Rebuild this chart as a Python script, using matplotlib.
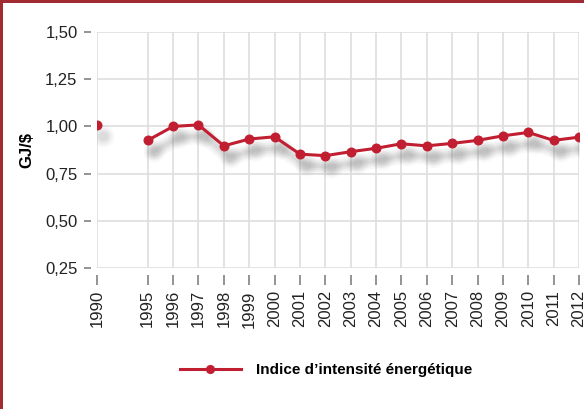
import matplotlib
matplotlib.use('Agg')
import matplotlib.pyplot as plt
import matplotlib.transforms as mtransforms
from matplotlib.patches import Rectangle
import numpy as np

# Data (empty slot between 1990 and 1995 keeps the gap on the axis)
years = ['1990', '', '1995', '1996', '1997', '1998', '1999', '2000', '2001',
         '2002', '2003', '2004', '2005', '2006', '2007', '2008', '2009',
         '2010', '2011', '2012']
intensity = [1.005, np.nan, 0.926, 1.00, 1.008, 0.897, 0.933, 0.945, 0.853,
             0.845, 0.866, 0.884, 0.908, 0.897, 0.91, 0.926, 0.95,
             0.968, 0.926, 0.943]
yticks = [0.25, 0.50, 0.75, 1.00, 1.25, 1.50]

red = '#c11f31'
frame_red = '#a22b33'
grid_col = '#dedede'
tick_col = '#777777'

plt.rcParams['font.family'] = ['Liberation Sans', 'DejaVu Sans']

fig = plt.figure(figsize=(5.84, 4.09), dpi=100)
ax = fig.add_axes([97/584, 1-268/409, 482/584, 236/409])

x = np.arange(len(years))
y = np.array(intensity)

# blurred drop shadow
shadow = mtransforms.offset_copy(ax.transData, fig=fig, x=6, y=-11, units='dots')
for lw, a in [(12, 0.05), (9, 0.07), (6, 0.09), (3, 0.11)]:
    ax.plot(x, y, color='#808080', lw=lw, alpha=a, solid_capstyle='round',
            transform=shadow, zorder=1)
    ax.plot(x, y, 'o', color='#808080', ms=lw + 4, alpha=a * 0.9, mec='none',
            transform=shadow, zorder=1)

ax.plot(x, y, color=red, lw=2.2, marker='o', ms=6.2, zorder=3,
        label='Indice d\u2019intensité énergétique')

ax.set_xlim(0, len(years) - 1)
ax.set_ylim(0.25, 1.5)
tick_pos = [i for i, yr in enumerate(years) if yr]
ax.set_xticks(tick_pos)
ax.set_xticklabels([years[i] for i in tick_pos])
ax.set_yticks(yticks)
ax.set_yticklabels([f'{v:.2f}'.replace('.', ',') for v in yticks])

ax.grid(True, color=grid_col, lw=1.2, zorder=0)
ax.set_axisbelow(True)
for s in ['top', 'right']:
    ax.spines[s].set_visible(False)
ax.spines['left'].set_position(('outward', 4))
ax.spines['bottom'].set_position(('outward', 5))
ax.spines['left'].set_color('none')
ax.spines['bottom'].set_color('none')
ax.tick_params(axis='y', length=5, width=1.1, color=tick_col, pad=5,
               labelsize=12, labelcolor='#222222')
ax.tick_params(axis='x', length=7, width=1.1, color=tick_col, pad=4,
               labelsize=12, labelrotation=90, labelcolor='#222222')

ax.set_ylabel('GJ/$', fontsize=12, fontweight='bold', labelpad=8)

ax.legend(loc='center', bbox_to_anchor=(326/584, 1-370/409),
          bbox_transform=fig.transFigure, frameon=False,
          prop={'weight': 'bold', 'size': 11}, handlelength=4.0,
          handletextpad=1.0, markerscale=0.9)

# red frame on top and left edges
fig.add_artist(Rectangle((0, 1-3/409), 1, 3/409, transform=fig.transFigure,
                         color=frame_red, lw=0))
fig.add_artist(Rectangle((0, 0), 3/584, 1, transform=fig.transFigure,
                         color=frame_red, lw=0))

fig.savefig('out.png', dpi=100)
